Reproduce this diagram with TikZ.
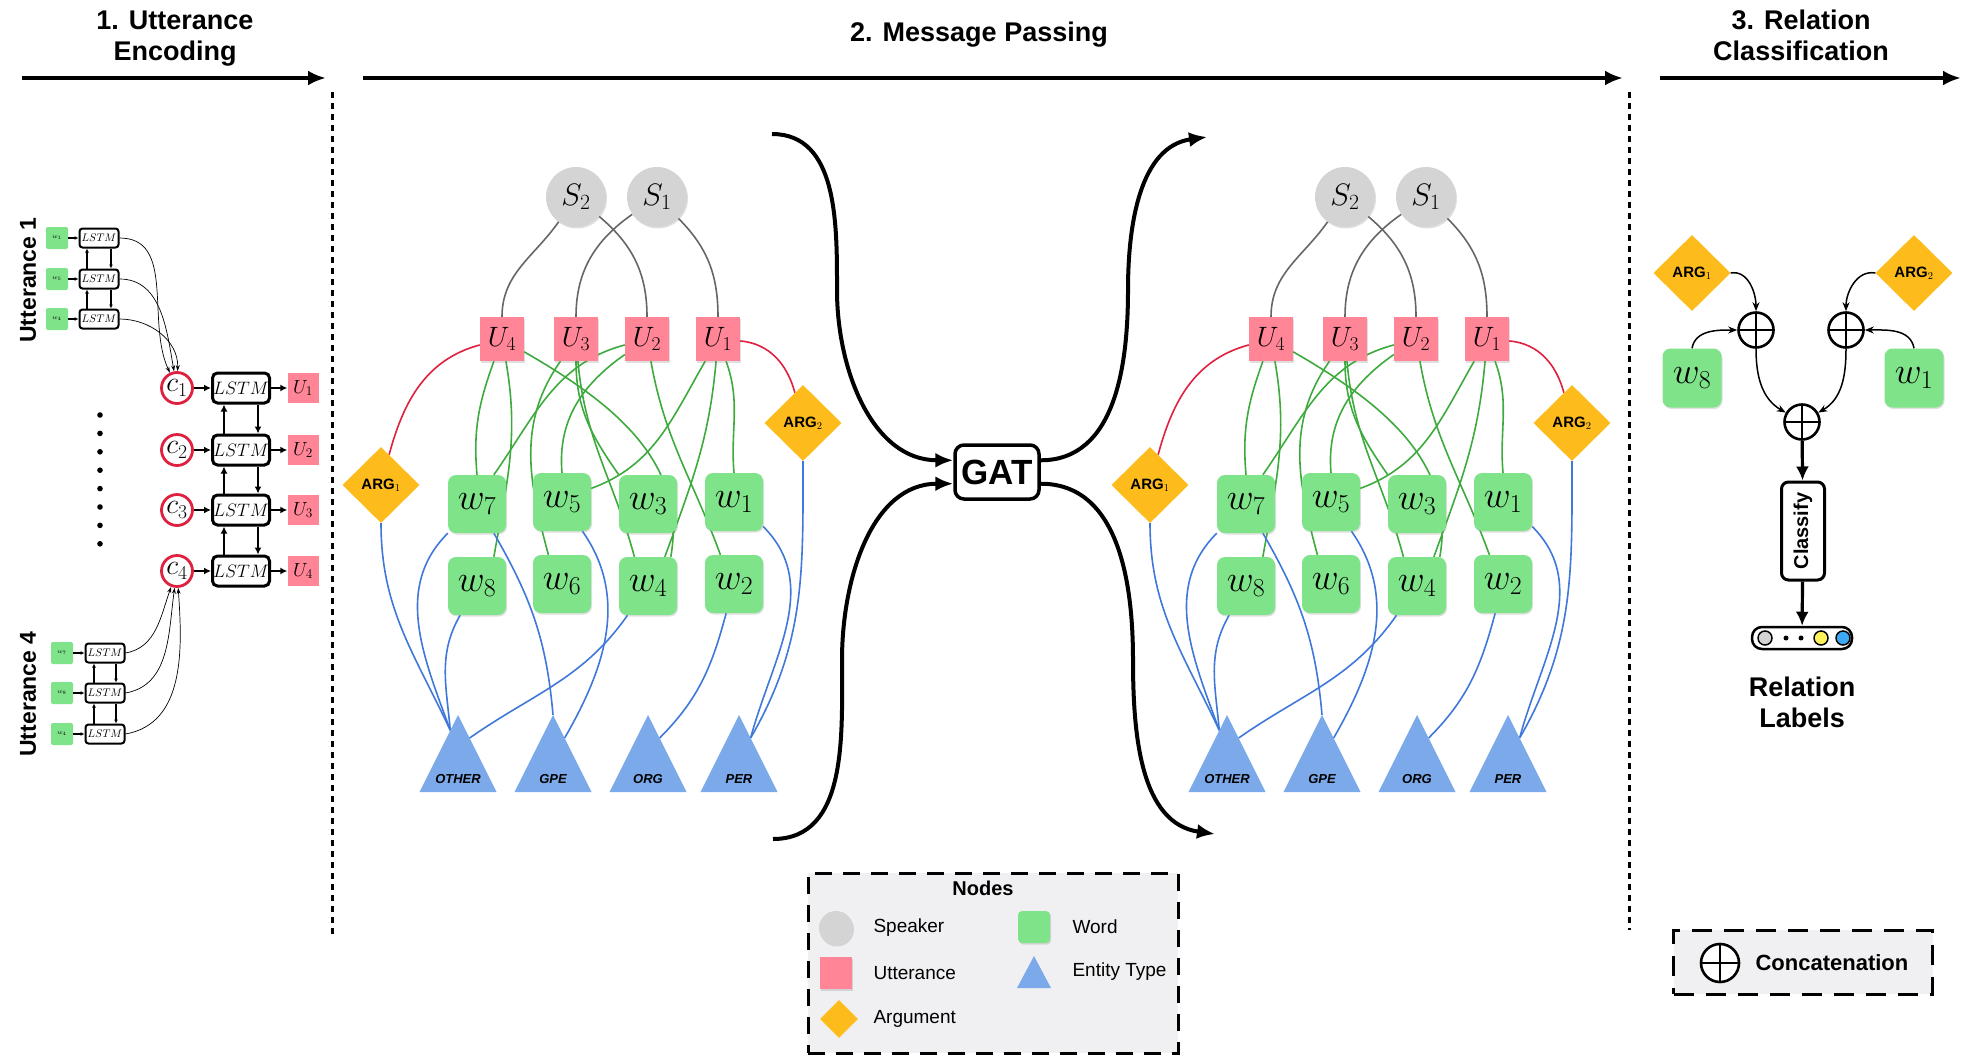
\RequirePackage{fix-cm}
\documentclass[tikz,border=0pt]{standalone}
\usepackage{fontspec}
\setsansfont{Liberation Sans}
\usepackage{graphicx}
\usetikzlibrary{shapes,arrows.meta,positioning,calc,shadows}

\definecolor{spkgray}{HTML}{D4D4D4}
\definecolor{uttpink}{HTML}{FF8597}
\definecolor{wordgreen}{HTML}{7FE38A}
\definecolor{arggold}{HTML}{FDBB1C}
\definecolor{typeblue}{HTML}{7BA9E9}
\definecolor{ctxred}{HTML}{E0203F}
\definecolor{edgegreen}{HTML}{3DAA3D}
\definecolor{edgeblue}{HTML}{3F78DA}
\definecolor{edgegray}{HTML}{666666}
\definecolor{boxgray}{HTML}{F0F0F2}
\definecolor{labyellow}{HTML}{FFF35C}
\definecolor{labblue}{HTML}{3DA9F5}

\newcommand{\fsz}[1]{\fontsize{#1}{#1}\selectfont}
\pgfdeclarelayer{background}
\pgfsetlayers{background,main}

\begin{document}
\begin{tikzpicture}[x=1pt, y=-1pt,
    hdr/.style={font=\sffamily\bfseries\fontsize{27}{31}\selectfont, align=center},
    phase/.style={-{Latex[length=18pt,width=15pt]}, line width=4pt},
    sep/.style={line width=3pt, dash pattern=on 6pt off 5pt},
    shade/.style={drop shadow={opacity=0.25, shadow xshift=1pt, shadow yshift=-1.5pt}},
    spk/.style={circle, fill=spkgray, minimum size=60pt, inner sep=0pt, font=\fsz{31}, shade},
    utt/.style={rectangle, fill=uttpink, minimum size=44pt, inner sep=0pt, font=\fsz{28}, shade},
    word/.style={rectangle, rounded corners=8pt, fill=wordgreen, minimum size=58pt, inner sep=0pt, font=\fsz{37}, shade},
    arg/.style={diamond, fill=arggold, minimum width=77pt, minimum height=76pt, inner sep=0pt, font=\sffamily\bfseries\fsz{15}},
    etype/.style={minimum width=77pt, minimum height=77pt, inner sep=0pt, path picture={\fill[typeblue] (path picture bounding box.south west) -- (path picture bounding box.north) -- (path picture bounding box.south east) -- cycle;}},
    tlbl/.style={anchor=south, yshift=5pt, font=\sffamily\bfseries\itshape\fsz{13}},
    spkedge/.style={draw=edgegray, line width=1.6pt},
    argedge/.style={draw=ctxred, line width=1.6pt},
    wordedge/.style={draw=edgegreen, line width=1.6pt},
    typeedge/.style={draw=edgeblue, line width=1.6pt},
    gat/.style={draw, line width=3.5pt, rounded corners=9pt, fill=white, minimum width=84pt, minimum height=54pt, inner sep=0pt, font=\sffamily\bfseries\fsz{35}},
    uttlbl/.style={rotate=90, font=\sffamily\bfseries\fsz{23}},
    tinyw/.style={rectangle, rounded corners=2pt, fill=wordgreen, minimum size=22pt, inner sep=0pt, font=\fsz{6}},
    tinylstm/.style={draw, fill=white, line width=2pt, rounded corners=3pt, minimum width=39pt, minimum height=19pt, inner sep=0pt, font=\fsz{11}},
    ctx/.style={circle, draw=ctxred, line width=2.8pt, fill=white, minimum size=31pt, inner sep=0pt, font=\fsz{28}},
    biglstm/.style={draw, fill=white, line width=3pt, rounded corners=5pt, minimum width=57pt, minimum height=30pt, inner sep=0pt, font=\fsz{18}},
    smallutt/.style={rectangle, fill=uttpink, minimum width=31pt, minimum height=30pt, inner sep=0pt, font=\fsz{19}},
    arr/.style={-{Latex[length=7pt,width=7pt]}, line width=2pt},
    tarr/.style={-{Latex[length=4pt,width=4pt]}, line width=1.2pt},
    feed/.style={-{Stealth[length=6pt,width=4pt]}, line width=0.7pt},
    oplus/.style={circle, draw, line width=2.6pt, fill=white, minimum size=35pt, inner sep=0pt, path picture={\draw[line width=2.6pt] (path picture bounding box.north) -- (path picture bounding box.south) (path picture bounding box.west) -- (path picture bounding box.east);}},
    catarr/.style={-{Stealth[length=9pt,width=7pt]}, line width=1.5pt},
    bigarr/.style={-{Latex[length=14pt,width=13pt]}, line width=3.2pt},
    keybox/.style={draw, line width=3pt, dash pattern=on 17pt off 11pt, fill=boxgray},
    keytxt/.style={anchor=west, font=\sffamily\fsz{19}}
  ]
\useasboundingbox (0,0) rectangle (1965,1055);

% stage headers
\node[hdr] (h1) at (175,39) {1. Utterance\\Encoding};
\node[hdr] (h2) at (979,35) {2. Message Passing};
\node[hdr] (h3) at (1801,35) {3. Relation\\Classification};
\coordinate (h1a) at (22,78);   \coordinate (h1b) at (326,78);
\coordinate (h2a) at (363,78);  \coordinate (h2b) at (1623,78);
\coordinate (h3a) at (1660,78); \coordinate (h3b) at (1961,78);
\draw[phase] (h1a) -- (h1b);
\draw[phase] (h2a) -- (h2b);
\draw[phase] (h3a) -- (h3b);
\draw[sep] (332,92) -- (332,936);
\draw[sep] (1629,92) -- (1629,930);

% utterance encoding
\node[uttlbl] (ulab1) at (28,280) {Utterance 1};
\node[uttlbl] (ulab4) at (28,694) {Utterance 4};
\foreach \i/\w/\y in {1/1/238, 2/5/279, 3/4/319} {
  \node[tinyw] (aw\i) at (57,\y) {$w_{\w}$};
  \node[tinylstm] (al\i) at (99,\y) {$LSTM$};
  \draw[tarr] (aw\i) -- (al\i);
}
\foreach \i/\w/\y in {1/7/653, 2/8/693, 3/4/734} {
  \node[tinyw] (bw\i) at (62,\y) {$w_{\w}$};
  \node[tinylstm] (bl\i) at (105,\y) {$LSTM$};
  \draw[tarr] (bw\i) -- (bl\i);
}
\foreach \i/\j in {1/2, 2/3} {
  \draw[tarr, line width=1.8pt] ([xshift=-12pt]al\j.north) -- ([xshift=-12pt]al\i.south);
  \draw[tarr, line width=1.8pt] ([xshift=12pt]al\i.south) -- ([xshift=12pt]al\j.north);
  \draw[tarr, line width=1.8pt] ([xshift=-11pt]bl\j.north) -- ([xshift=-11pt]bl\i.south);
  \draw[tarr, line width=1.8pt] ([xshift=11pt]bl\i.south) -- ([xshift=11pt]bl\j.north);
}
\foreach \i/\y in {1/388, 2/450, 3/510, 4/571} {
  \node[ctx] (c\i) at (177,\y) {$c_{\i}$};
  \node[biglstm] (L\i) at (241,\y) {$LSTM$};
  \node[smallutt] (pu\i) at (303,\y) {$U_{\i}$};
  \draw[arr] (c\i) -- (L\i);
  \draw[arr] (L\i) -- (pu\i);
}
\foreach \i/\j in {1/2, 2/3, 3/4} {
  \draw[arr] ([xshift=-17pt]L\j.north) -- ([xshift=-17pt]L\i.south);
  \draw[arr] ([xshift=17pt]L\i.south) -- ([xshift=17pt]L\j.north);
}
\foreach \i/\a in {1/115, 2/100, 3/88}
  \draw[feed] (al\i.east) to[out=0, in=\a] (c1.\a);
\foreach \i/\a in {1/250, 2/262, 3/274}
  \draw[feed] (bl\i.east) to[out=10, in=\a] (c4.\a);
\foreach \k in {0,...,7}
  \fill (100,{415+18.4*\k}) circle (2.8pt);

% message passing graphs, before and after GAT
\foreach \g/\dx in {a/0, b/769} {
  \begin{scope}[shift={(\dx,0)}]
    \node[spk] (\g-s2) at (576,197) {$S_2$};
    \node[spk] (\g-s1) at (657,197) {$S_1$};
    \foreach \i/\x in {4/502, 3/576, 2/647, 1/718}
      \node[utt] (\g-u\i) at (\x,339) {$U_{\i}$};
    \node[arg] (\g-arg1) at (381,485) {ARG$_1$};
    \node[arg] (\g-arg2) at (803,423) {ARG$_2$};
    \foreach \i/\x/\y in {7/477/504, 5/562/502, 3/648/504, 1/734/502, 8/477/586, 6/562/584, 4/648/586, 2/734/584}
      \node[word] (\g-w\i) at (\x,\y) {$w_{\i}$};
    \foreach \t/\txt/\x in {other/OTHER/458, gpe/GPE/553, org/ORG/648, per/PER/739}
      \node[etype, label={[tlbl]south:\txt}] (\g-\t) at (\x,753.5) {};
  \end{scope}
  \foreach \t in {other, gpe, org, per} {
    \coordinate (\g-\t-l) at ($(\g-\t.north)!0.2!(\g-\t.south west)$);
    \coordinate (\g-\t-r) at ($(\g-\t.north)!0.3!(\g-\t.south east)$);
  }
  \begin{pgfonlayer}{background}
    \foreach \s/\t/\o/\n in {s2/u4.north/235/90, s2/u2.north/-40/90, s1/u3.north/215/90, s1/u1.north/-45/90}
      \draw[spkedge] (\g-\s) to[out=\o, in=\n] (\g-\t);
    \draw[argedge] (\g-u4) to[out=195, in=75] (\g-arg1);
    \draw[argedge] (\g-u1) to[out=-5, in=105] (\g-arg2);
    \foreach \s/\t/\o/\n in {u4.250/w7.north/250/95, u4.280/w8.60/280/80, u4.330/w4.52/-30/80,
        u3.235/w6.115/235/105, u3.south/w3.135/-90/125, u3.275/w4.115/-85/105,
        u2.195/w7.60/195/55, u2.215/w5.north/215/95, u2.280/w2.115/-80/110,
        u1.240/w5.25/240/20, u1.265/w4.60/265/70, u1.290/w1.north/-70/95}
      \draw[wordedge] (\g-\s) to[out=\o, in=\n] (\g-\t);
    \foreach \s/\t/\o/\n in {arg1.south/other-l/-90/115, w7.225/other-l/225/110, w8.240/other-l/240/95,
        w4.235/other-r/235/35, w7.300/gpe.north/-60/95, w5.305/gpe-r/-55/60,
        w2.255/org-r/255/45, w1.320/per-r/-45/75, arg2.south/per-r/-90/60}
      \draw[typeedge] (\g-\s) to[out=\o, in=\n] (\g-\t);
  \end{pgfonlayer}
}

% GAT in the middle
\node[gat] (gat) at (997,472) {GAT};
\coordinate (in1) at (772,134);
\coordinate (in2) at (773,839);
\coordinate (out1) at (1207,137);
\coordinate (out2) at (1215,834);
\draw[phase] (in1) to[out=0, in=90] (837,290) to[out=-90, in=180] (gat.165);
\draw[phase] (in2) to[out=0, in=-90] (842,660) to[out=90, in=180] (gat.195);
\draw[phase] (gat.15) to[out=0, in=-90] (1128,290) to[out=90, in=188] (out1);
\draw[phase] (gat.345) to[out=0, in=90] (1133,660) to[out=-90, in=172] (out2);

% legend
\node[keybox, minimum width=370pt, minimum height=180pt] (key) at (993,963) {};
\node[font=\sffamily\bfseries\fsz{20}] (keyhd) at (983,888) {Nodes};
\node[spk, minimum size=34pt] (kspk) at (836,928) {};
\node[keytxt] (tspk) at (870,928) {Speaker};
\node[utt, minimum size=32pt] (kutt) at (836,973) {};
\node[keytxt] (tutt) at (870,973) {Utterance};
\node[arg, minimum width=38pt, minimum height=38pt] (karg) at (839,1019) {};
\node[keytxt] (targ) at (870,1019) {Argument};
\node[word, rounded corners=4pt, minimum size=32pt] (kword) at (1034,927) {};
\node[keytxt] (tword) at (1069,927) {Word};
\node[etype, minimum width=34pt, minimum height=32pt] (ktype) at (1034,972) {};
\node[keytxt] (ttype) at (1069,972) {Entity Type};

% relation classification
\node[arg] (rarg1) at (1692,273) {ARG$_1$};
\node[arg] (rarg2) at (1914,273) {ARG$_2$};
\node[word, minimum size=59pt] (rw8) at (1692,378) {$w_8$};
\node[word, minimum size=59pt] (rw1) at (1914,378) {$w_1$};
\node[oplus] (cat1) at (1756,330) {};
\node[oplus] (cat2) at (1846,330) {};
\node[oplus] (cat3) at (1802,422) {};
\node[draw, line width=3pt, rounded corners=7pt, minimum width=43pt, minimum height=98pt, inner sep=0pt, font=\sffamily\bfseries\fsz{20}] (cls) at (1803,531) {\rotatebox{90}{Classify}};
\node[draw, line width=2.5pt, rounded corners=10pt, minimum width=100pt, minimum height=22pt, inner sep=0pt] (vec) at (1802,638) {};
\node[hdr] (rlab) at (1802,702) {Relation\\Labels};
\filldraw[fill=spkgray, line width=1.5pt] (1765,638) circle (7pt);
\fill (1786,638) circle (2.5pt);
\fill (1801,638) circle (2.5pt);
\filldraw[fill=labyellow, line width=1.5pt] (1821,638) circle (7pt);
\filldraw[fill=labblue, line width=1.5pt] (1843,638) circle (7pt);
\draw[catarr] (rarg1.east) to[out=10, in=90] (cat1.north);
\draw[catarr] (rw8.north) to[out=80, in=180] (cat1.west);
\draw[catarr] (rarg2.west) to[out=170, in=90] (cat2.north);
\draw[catarr] (rw1.north) to[out=100, in=0] (cat2.east);
\draw[catarr] (cat1.south) to[out=-90, in=150] (cat3.150);
\draw[catarr] (cat2.south) to[out=-90, in=30] (cat3.30);
\draw[bigarr] (cat3) -- (cls);
\draw[bigarr] (cls) -- (vec);

% concatenation key
\node[keybox, dash pattern=on 20pt off 12pt, minimum width=259pt, minimum height=64pt] (catkey) at (1803,962) {};
\node[oplus, minimum size=38pt] (kcat) at (1720,963) {};
\node[keytxt, font=\sffamily\bfseries\fsz{22}] (tcat) at (1752,963) {Concatenation};
\end{tikzpicture}
\end{document}
